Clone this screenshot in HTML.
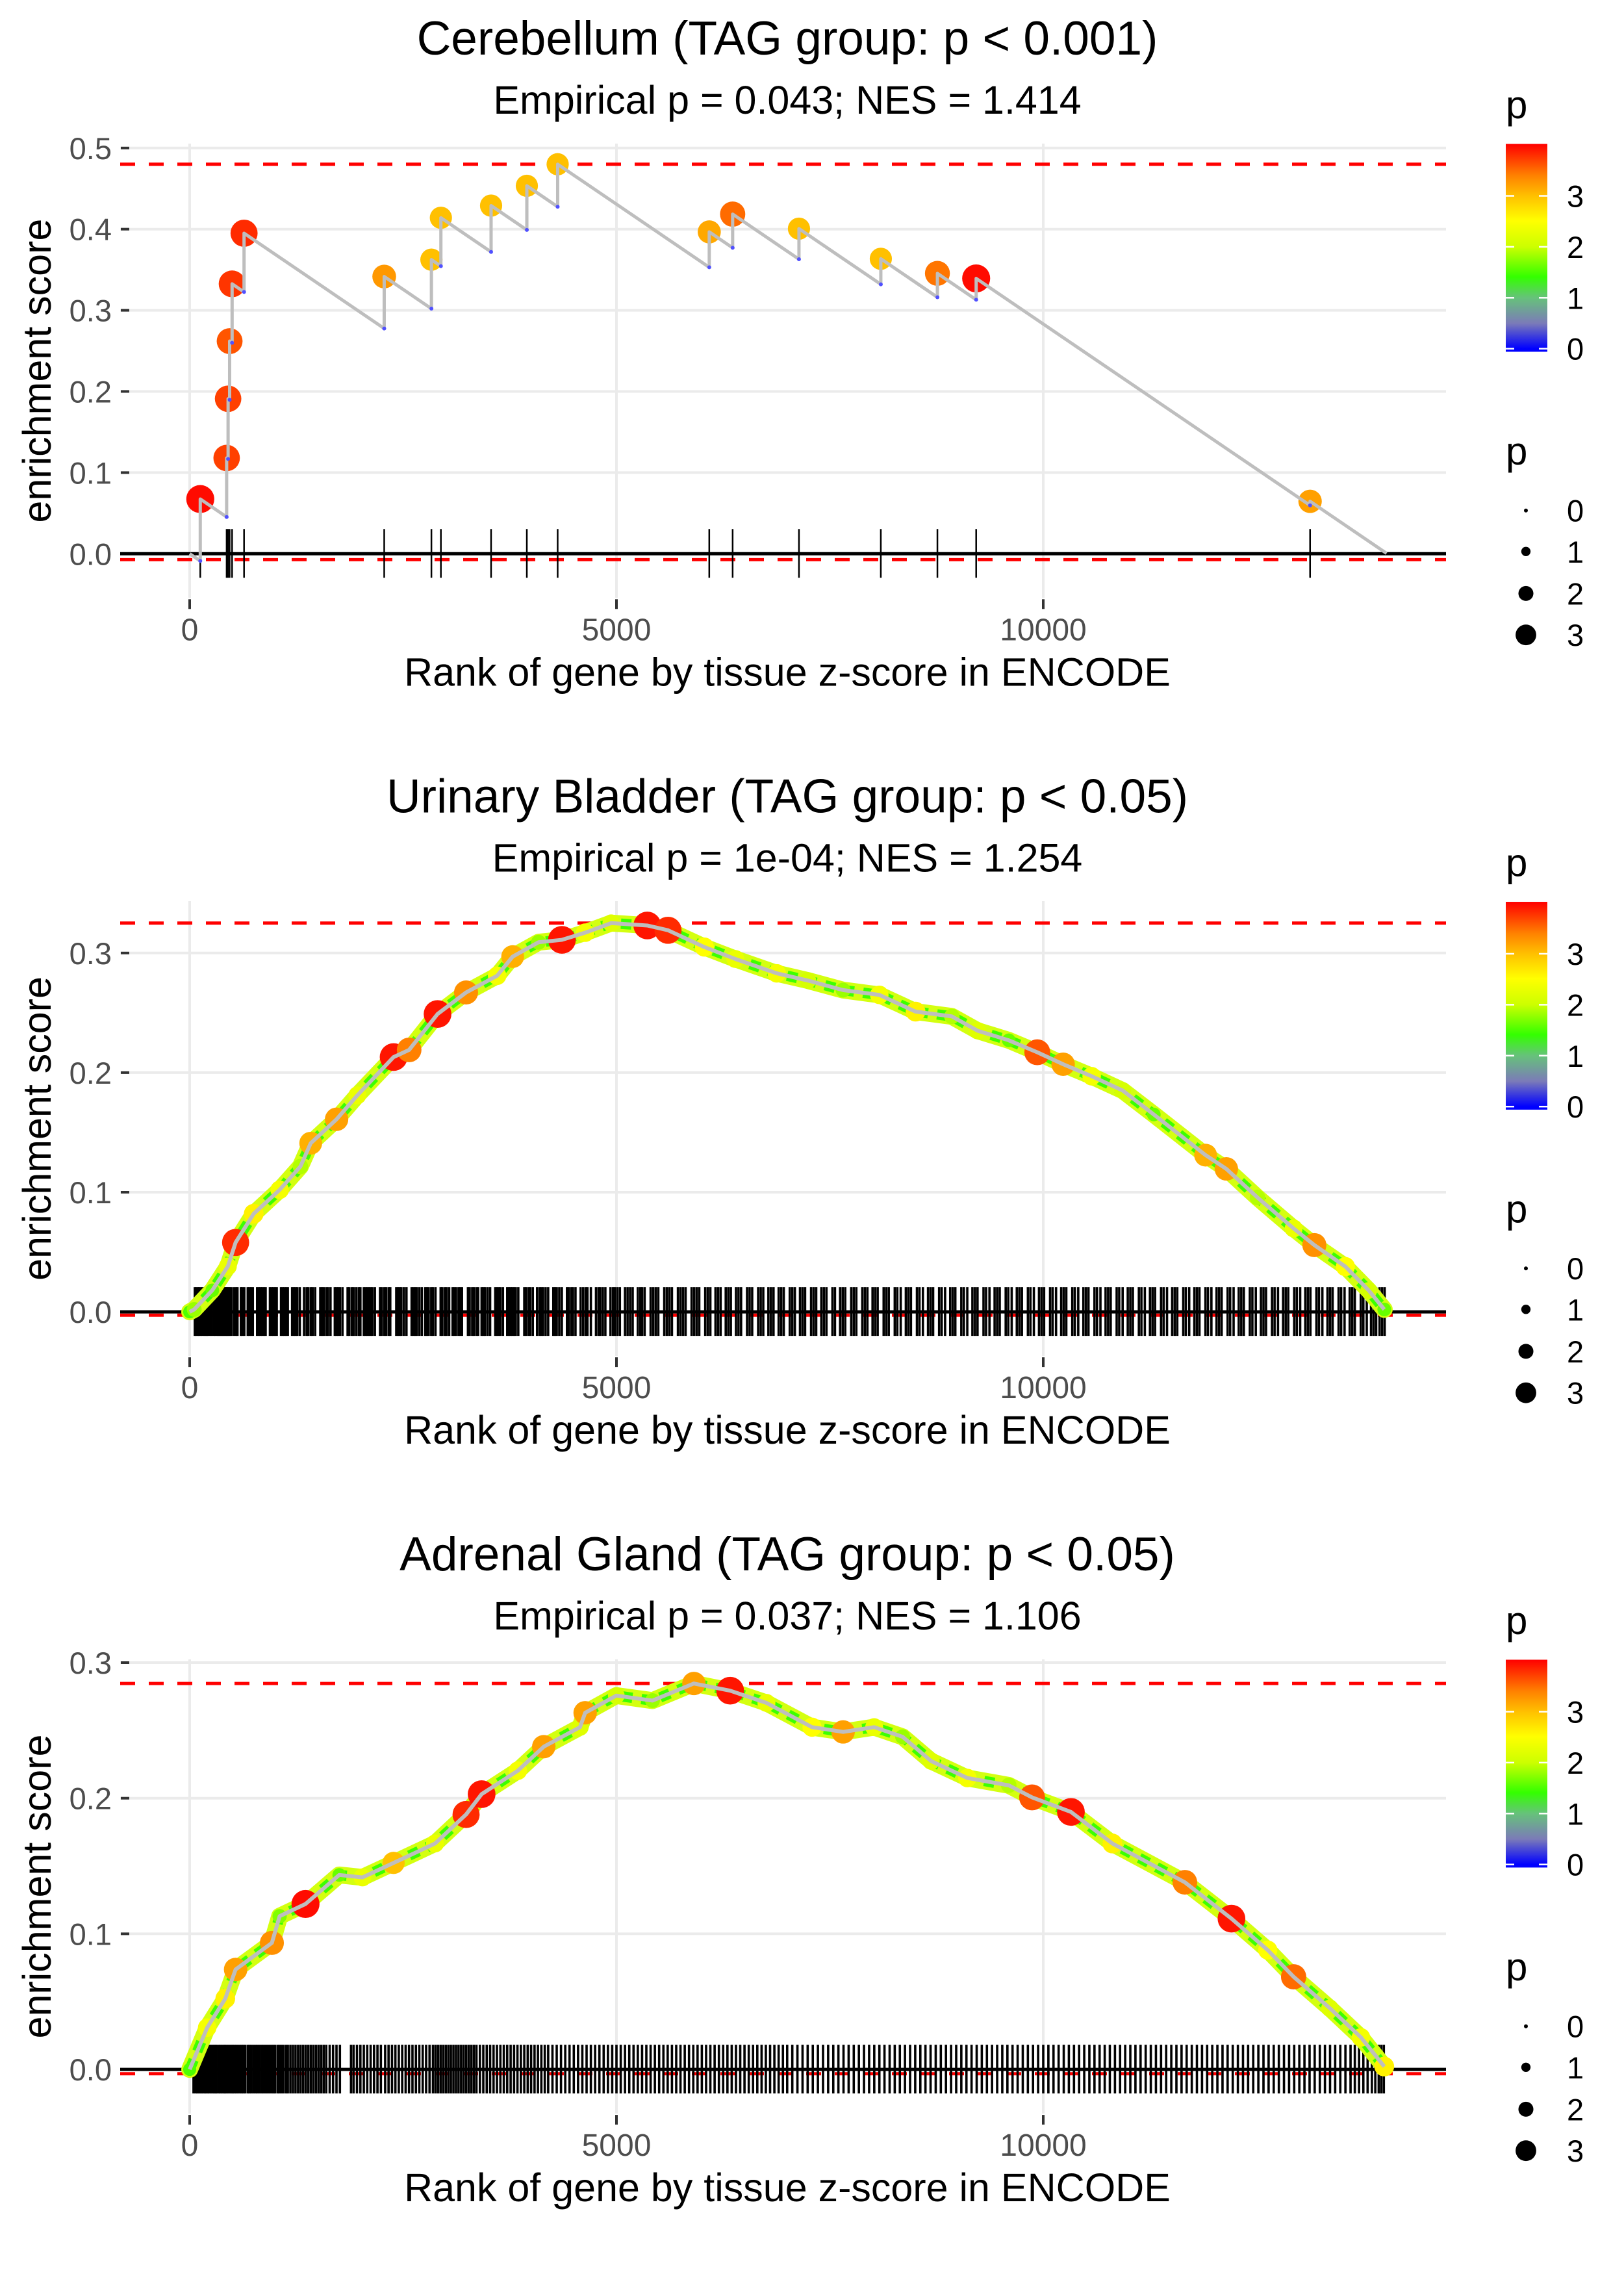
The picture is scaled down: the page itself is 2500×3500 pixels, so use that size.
<!DOCTYPE html>
<html><head><meta charset="utf-8"><title>Enrichment plots</title>
<style>html,body{margin:0;padding:0;background:#fff;}svg{display:block;}</style></head>
<body>
<svg id="chart" xmlns="http://www.w3.org/2000/svg" width="2500" height="3500" viewBox="0 0 2500 3500" font-family="Liberation Sans, Arial, sans-serif">
<defs>
<linearGradient id="pgrad" x1="0" y1="1" x2="0" y2="0">
<stop offset="0.015" stop-color="#0000ff"/><stop offset="0.137" stop-color="#7b7bb8"/><stop offset="0.26" stop-color="#66c27a"/>
<stop offset="0.36" stop-color="#33ff00"/><stop offset="0.505" stop-color="#ccff00"/><stop offset="0.63" stop-color="#ffff00"/>
<stop offset="0.75" stop-color="#ffc000"/><stop offset="0.85" stop-color="#ff8000"/><stop offset="1" stop-color="#ff0000"/>
</linearGradient>
</defs>
</svg>
<script>
// ---------- DATA ----------
const panelTitles = ["Cerebellum (TAG group: p < 0.001)", "Urinary Bladder (TAG group: p < 0.05)", "Adrenal Gland (TAG group: p < 0.05)"];
const panelSubtitles = ["Empirical p = 0.043; NES = 1.414", "Empirical p = 1e-04; NES = 1.254", "Empirical p = 0.037; NES = 1.106"];
const xTicks = [0, 5000, 10000];
const yTicks1 = [0, 0.1, 0.2, 0.3, 0.4, 0.5];
const yTicks2 = [0, 0.1, 0.2, 0.3];
const yTicks3 = [0, 0.1, 0.2, 0.3];
const colorTicks = [0, 1, 2, 3];
const sizeTicks = [0, 1, 2, 3];
const minES = [-0.0073, -0.0028, -0.0032];

// Panel 1 (Cerebellum) hits
const p1Rank = [124, 433, 450, 468, 497, 637, 2279, 2832, 2943, 3531, 3950, 4311, 6087, 6361, 7138, 8097, 8760, 9214, 13126];
const p1ES = [0.0674, 0.118, 0.191, 0.262, 0.3326, 0.395, 0.3416, 0.3624, 0.414, 0.429, 0.4534, 0.480, 0.3966, 0.4185, 0.4006, 0.3635, 0.3455, 0.3393, 0.0646];
const p1P = [3.95, 3.7, 3.7, 3.6, 3.75, 3.8, 3.25, 3.0, 3.0, 3.0, 3.0, 3.0, 3.15, 3.5, 3.0, 3.0, 3.45, 3.95, 3.2];
const p1Rate = 7.15e-5;
const p1End = 14022;

// Panel 2 (Urinary Bladder)
const p2Rank = [0, 53, 265, 447, 538, 750, 1054, 1297, 1418, 1721, 1964, 2389, 2571, 2904, 3238, 3602, 3784, 4087, 4361, 4633, 4937, 5361, 5604, 6029, 6393, 6878, 7242, 7655, 8079, 8504, 8929, 9232, 9596, 9930, 10233, 10567, 10931, 11295, 11902, 12145, 12509, 12933, 13176, 13540, 13813, 13995];
const p2ES = [0, 0.002, 0.018, 0.038, 0.058, 0.082, 0.102, 0.1215, 0.141, 0.161, 0.181, 0.213, 0.219, 0.249, 0.267, 0.281, 0.297, 0.309, 0.311, 0.317, 0.325, 0.323, 0.319, 0.305, 0.295, 0.283, 0.277, 0.269, 0.265, 0.251, 0.247, 0.235, 0.227, 0.217, 0.207, 0.197, 0.185, 0.165, 0.131, 0.1195, 0.0956, 0.0697, 0.0558, 0.0378, 0.0179, 0.002];
const p2P = [1.5, 1.8, 1.6, 2.3, 3.8, 2.6, 2.4, 1.9, 3.1, 3.2, 2.3, 3.9, 3.4, 3.9, 3.3, 2.4, 3.1, 1.8, 3.9, 2.4, 2.2, 3.9, 3.8, 2.5, 2.3, 2.4, 2.1, 1.8, 2.4, 2.6, 1.9, 2.2, 1.6, 3.6, 3.2, 2.4, 2.1, 1.6, 3.1, 3.2, 1.9, 2.3, 3.3, 2.5, 2.1, 1.6];

// Panel 3 (Adrenal Gland)
const p3Rank = [0, 205, 417, 538, 963, 1054, 1357, 1752, 2024, 2389, 2874, 3238, 3420, 3845, 4148, 4573, 4633, 4998, 5422, 5907, 6332, 6757, 7291, 7655, 8019, 8352, 8686, 9111, 9596, 9869, 10324, 10810, 11659, 12205, 12630, 12933, 13358, 13722, 13995];
const p3ES = [0, 0.0308, 0.0522, 0.0737, 0.0933, 0.113, 0.122, 0.1434, 0.1416, 0.1523, 0.1666, 0.188, 0.203, 0.2203, 0.238, 0.2524, 0.263, 0.2757, 0.272, 0.2846, 0.2793, 0.2703, 0.2524, 0.2489, 0.2524, 0.2453, 0.2274, 0.2149, 0.2095, 0.2006, 0.1899, 0.1666, 0.138, 0.1112, 0.088, 0.0683, 0.0451, 0.0236, 0.0021];
const p3P = [1.5, 2.4, 2.6, 3.2, 3.3, 1.7, 3.95, 1.6, 2.3, 3.0, 2.3, 3.8, 3.9, 2.4, 3.2, 2.2, 3.2, 2.1, 1.8, 3.2, 3.9, 2.3, 2.5, 3.2, 2.3, 1.8, 2.2, 2.4, 1.9, 3.6, 3.9, 2.6, 3.4, 3.9, 2.5, 3.5, 2.2, 2.4, 2.6];

// Rug ranks
const p2Hits = [60,75,95,110,130,150,170,185,200,215,240,260,285,300,320,335,350,365,380,395,410,425,440,455,470,490,520,545,560,600,615,640,680,700,720,740,790,810,830,850,870,890,940,960,980,1000,1020,1070,1090,1110,1130,1150,1200,1220,1240,1260,1290,1340,1370,1390,1420,1440,1470,1530,1550,1570,1600,1620,1650,1700,1720,1740,1760,1790,1850,1870,1900,1920,1950,1980,2000,2040,2060,2080,2100,2120,2140,2170,2230,2250,2280,2300,2330,2350,2420,2440,2460,2480,2510,2540,2600,2620,2640,2660,2690,2720,2760,2780,2800,2830,2850,2880,2940,2960,2990,3010,3040,3080,3100,3120,3150,3170,3190,3260,3280,3310,3330,3360,3380,3420,3440,3460,3490,3520,3580,3600,3620,3640,3670,3720,3740,3760,3780,3800,3820,3850,3920,3940,3970,3990,4020,4070,4100,4120,4140,4170,4200,4260,4280,4300,4330,4360,4420,4440,4470,4490,4520,4580,4610,4640,4660,4700,4760,4790,4810,4840,4870,4930,4960,4980,5010,5040,5100,5130,5160,5190,5250,5280,5300,5330,5400,5430,5460,5490,5560,5590,5620,5650,5720,5750,5780,5810,5880,5910,5940,5970,6040,6070,6100,6160,6190,6220,6280,6310,6340,6400,6430,6460,6530,6560,6590,6660,6690,6720,6780,6810,6840,6900,6930,6960,7030,7060,7090,7150,7180,7210,7280,7310,7340,7400,7430,7460,7530,7560,7620,7650,7680,7750,7780,7810,7880,7910,7940,8000,8030,8060,8130,8160,8190,8260,8290,8330,8390,8420,8450,8520,8550,8590,8650,8680,8710,8780,8810,8850,8910,8940,8970,9040,9070,9110,9170,9200,9230,9300,9330,9370,9430,9460,9490,9560,9590,9630,9690,9720,9750,9820,9850,9890,9950,9980,10010,10080,10110,10150,10210,10240,10270,10340,10370,10410,10470,10500,10530,10600,10630,10670,10730,10760,10790,10860,10890,10930,10990,11020,11050,11120,11150,11190,11250,11280,11310,11380,11410,11450,11510,11540,11570,11640,11670,11710,11770,11800,11830,11900,11930,11970,12030,12060,12090,12160,12190,12230,12290,12320,12350,12420,12450,12490,12550,12580,12610,12680,12710,12750,12810,12840,12870,12940,12970,13010,13070,13100,13130,13200,13230,13270,13330,13360,13390,13460,13490,13530,13590,13620,13650,13720,13750,13790,13840,13870,13900,13940,13970,14000];
const p3Hits = [45,70,90,105,125,140,160,180,195,215,230,250,270,290,305,320,345,360,380,400,415,430,450,470,490,505,525,545,565,590,610,630,650,680,700,720,745,770,790,815,840,860,885,905,930,955,980,1000,1030,1050,1075,1100,1130,1150,1180,1210,1240,1270,1300,1330,1360,1390,1420,1450,1480,1510,1540,1570,1600,1640,1680,1720,1760,1890,1920,1960,2000,2040,2080,2120,2160,2200,2240,2290,2330,2370,2410,2450,2490,2530,2570,2610,2650,2690,2730,2770,2810,2850,2880,2910,2940,2970,3000,3030,3060,3090,3120,3150,3180,3210,3240,3270,3300,3330,3360,3400,3440,3480,3520,3560,3600,3640,3680,3720,3760,3800,3840,3880,3920,3960,4000,4040,4080,4120,4160,4200,4250,4300,4350,4400,4450,4500,4550,4600,4650,4700,4750,4800,4850,4900,4950,5000,5050,5100,5150,5200,5250,5300,5350,5400,5450,5500,5550,5600,5650,5700,5750,5800,5850,5900,5950,6000,6050,6100,6150,6200,6250,6300,6350,6400,6450,6500,6550,6600,6650,6700,6750,6800,6850,6900,6950,7000,7060,7120,7180,7240,7300,7360,7420,7480,7540,7600,7660,7720,7780,7840,7900,7960,8020,8080,8140,8200,8260,8320,8380,8440,8500,8560,8620,8680,8740,8800,8860,8920,8980,9040,9100,9160,9220,9280,9340,9400,9460,9520,9580,9640,9700,9760,9820,9880,9940,10000,10060,10120,10180,10240,10300,10360,10420,10480,10540,10600,10660,10720,10780,10840,10900,10960,11020,11080,11140,11200,11260,11320,11380,11440,11500,11560,11620,11680,11740,11800,11860,11920,11980,12040,12100,12160,12220,12280,12340,12400,12460,12520,12580,12640,12700,12760,12820,12880,12940,13000,13060,13120,13180,13240,13300,13360,13420,13480,13540,13600,13650,13700,13750,13800,13850,13890,13930,13960,13990];

// ---------- LAYOUT ----------
const NS = "http://www.w3.org/2000/svg";
const svg = document.getElementById('chart');
const X0 = 292, XK = 0.1314, PL = 185, PR = 2226;
const panels = [
  {oy: 0, y0: 852.3, k: 1249, top: 221, ticks: yTicks1},
  {oy: 1166.5, y0: 2019.1, k: 1841, top: 1387, ticks: yTicks2},
  {oy: 2333, y0: 3185.1, k: 2087, top: 2554, ticks: yTicks3}
];
function xs(r){ return X0 + r * XK; }
function mk(tag, attrs, parent){
  const e = document.createElementNS(NS, tag);
  for (const a in attrs) e.setAttribute(a, attrs[a]);
  (parent || svg).appendChild(e);
  return e;
}
const cstops = [[0,[0,0,255]],[0.5,[123,123,184]],[1.0,[102,194,122]],[1.4,[51,255,0]],[2.0,[204,255,0]],[2.5,[255,255,0]],[3.0,[255,192,0]],[3.4,[255,128,0]],[4.0,[255,0,0]]];
function pcol(p){
  p = Math.max(0, Math.min(4, p));
  for (let i = 1; i < cstops.length; i++){
    if (p <= cstops[i][0]){
      const a = cstops[i-1], b = cstops[i], t = (p - a[0]) / (b[0] - a[0]);
      const c = a[1].map((v, j) => Math.round(v + (b[1][j] - v) * t));
      return 'rgb(' + c.join(',') + ')';
    }
  }
  return 'rgb(255,0,0)';
}
function prad(p){ return 3 + 4.7 * p; }

function drawPanel(pi, rank, es, pv, hits){
  const P = panels[pi];
  const ys = v => P.y0 - v * P.k;
  const g = mk('g', {});  
  const bottom = P.y0 + 68;
  P.ticks.forEach(t => {
    const l = mk('line', {x1: PL, x2: PR, y1: ys(t), y2: ys(t), stroke: '#ebebeb', 'stroke-width': 4}, g);
     
  });
  xTicks.forEach(t => {
    const l = mk('line', {x1: xs(t), x2: xs(t), y1: P.top, y2: bottom, stroke: '#ebebeb', 'stroke-width': 4}, g);
     
  });
  P.ticks.forEach(t => {
    const tk = mk('line', {x1: 186, x2: 199, y1: ys(t), y2: ys(t), stroke: '#333', 'stroke-width': 4}, g);
     
    const tx = mk('text', {x: 172, y: ys(t) + 17, 'text-anchor': 'end', 'font-size': 47, fill: '#4d4d4d'}, g);
    tx.textContent = t.toFixed(1);
     
  });
  xTicks.forEach(t => {
    const tk = mk('line', {x1: xs(t), x2: xs(t), y1: P.y0 + 70, y2: P.y0 + 85, stroke: '#333', 'stroke-width': 4}, g);
     
    const tx = mk('text', {x: xs(t), y: P.y0 + 133, 'text-anchor': 'middle', 'font-size': 48, fill: '#4d4d4d'}, g);
    tx.textContent = String(t);
     
  });
  const tt = mk('text', {x: 1212, y: P.oy + 84, 'text-anchor': 'middle', 'font-size': 73, fill: '#000'}, g);
  tt.textContent = panelTitles[pi];
   
  const st = mk('text', {x: 1212, y: P.oy + 175, 'text-anchor': 'middle', 'font-size': 61, fill: '#000'}, g);
  st.textContent = panelSubtitles[pi];
   
  const xt = mk('text', {x: 1212, y: P.y0 + 203, 'text-anchor': 'middle', 'font-size': 61, fill: '#000'}, g);
  xt.textContent = 'Rank of gene by tissue z-score in ENCODE';
   
  const cy = (P.top + bottom) / 2;
  const yt = mk('text', {x: 0, y: 0, 'text-anchor': 'middle', 'font-size': 61, fill: '#000', transform: 'translate(78,' + cy + ') rotate(-90)'}, g);
  yt.textContent = 'enrichment score';
   

  const maxES = Math.max.apply(null, es);
  [maxES, minES[pi]].forEach(v => {
    const d = mk('line', {x1: PL, x2: PR, y1: ys(v), y2: ys(v), stroke: '#ff0000', 'stroke-width': 5, 'stroke-dasharray': '23 21'}, g);
     
  });
  const z = mk('line', {x1: PL, x2: PR, y1: ys(0), y2: ys(0), stroke: '#000', 'stroke-width': 5}, g);
   
  hits.forEach(r => {
    const l = mk('line', {x1: xs(r), x2: xs(r), y1: P.y0 - 38, y2: P.y0 + 37, stroke: '#000', 'stroke-width': pi === 0 ? 2.5 : 3.6}, g);
     
  });
  return {g, ys};
}

// Panel 1
(function(){
  const {g, ys} = drawPanel(0, p1Rank, p1ES, p1P, p1Rank);
  let d = 'M' + xs(0) + ' ' + ys(0);
  let prevR = 0, prevE = 0; const pre = [];
  p1Rank.forEach((r, i) => {
    const pe = prevE - p1Rate * (r - prevR);
    pre.push(pe);
    d += ' L' + xs(r) + ' ' + ys(pe) + ' L' + xs(r) + ' ' + ys(p1ES[i]);
    prevR = r; prevE = p1ES[i];
  });
  d += ' L' + xs(p1End) + ' ' + ys(prevE - p1Rate * (p1End - prevR));
  p1Rank.forEach((r, i) => {
    const c = mk('circle', {cx: xs(r), cy: ys(p1ES[i]), r: prad(p1P[i]), fill: pcol(p1P[i])}, g);
     
  });
  const path = mk('path', {d: d, fill: 'none', stroke: '#bebebe', 'stroke-width': 5, 'stroke-linejoin': 'round'}, g);
   
  p1Rank.forEach((r, i) => {
    const c = mk('circle', {cx: xs(r), cy: ys(pre[i]), r: 3, fill: '#5050ff'}, g);
     
  });
})();

function dense(pi, rank, es, pv, hits){
  const {g, ys} = drawPanel(pi, rank, es, pv, hits);
  const pts = rank.map((r, i) => xs(r) + ',' + ys(es[i])).join(' ');
  const band = mk('polyline', {points: pts, fill: 'none', stroke: '#d4ff10', 'stroke-width': 26, 'stroke-linejoin': 'round', 'stroke-linecap': 'round'}, g);
   
  const band2 = mk('polyline', {points: pts, fill: 'none', stroke: '#3cff00', 'stroke-width': 16, 'stroke-linejoin': 'round', 'stroke-dasharray': '16 14'}, g);
   
  rank.forEach((r, i) => {
    const c = mk('circle', {cx: xs(r), cy: ys(es[i]), r: prad(pv[i]), fill: pcol(pv[i])}, g);
     
  });
  const line = mk('polyline', {points: pts, fill: 'none', stroke: '#bebebe', 'stroke-width': 6, 'stroke-linejoin': 'round'}, g);
   
}
dense(1, p2Rank, p2ES, p2P, p2Hits);
dense(2, p3Rank, p3ES, p3P, p3Hits);

// Legends
panels.forEach((P, pi) => {
  const oy = P.oy;
  const g = mk('g', {});  
  const cyP = p => oy + 536.7 - 78.4 * p;
  const t1 = mk('text', {x: 2318, y: oy + 182, 'font-size': 60, fill: '#000'}, g);
  t1.textContent = 'p';
   
  const bar = mk('rect', {x: 2318, y: cyP(4.02), width: 64, height: cyP(-0.06) - cyP(4.02), fill: 'url(#pgrad)'}, g);
   
  colorTicks.forEach(t => {
    const a = mk('line', {x1: 2318, x2: 2331, y1: cyP(t), y2: cyP(t), stroke: '#fff', 'stroke-width': 2.5}, g);
     
    const b = mk('line', {x1: 2369, x2: 2382, y1: cyP(t), y2: cyP(t), stroke: '#fff', 'stroke-width': 2.5}, g);
     
    const tx = mk('text', {x: 2412, y: cyP(t) + 17, 'font-size': 47, fill: '#000'}, g);
    tx.textContent = String(t);
     
  });
  const t2 = mk('text', {x: 2318, y: oy + 715, 'font-size': 60, fill: '#000'}, g);
  t2.textContent = 'p';
   
  const sy = [785.7, 848.8, 913.4, 977.2];
  sizeTicks.forEach((t, i) => {
    const c = mk('circle', {cx: 2349, cy: oy + sy[i], r: t === 0 ? 3 : prad(t) * 0.93, fill: '#000'}, g);
     
    const tx = mk('text', {x: 2412, y: oy + sy[i] + 17, 'font-size': 47, fill: '#000'}, g);
    tx.textContent = String(t);
     
  });
});
</script>
</body></html>
